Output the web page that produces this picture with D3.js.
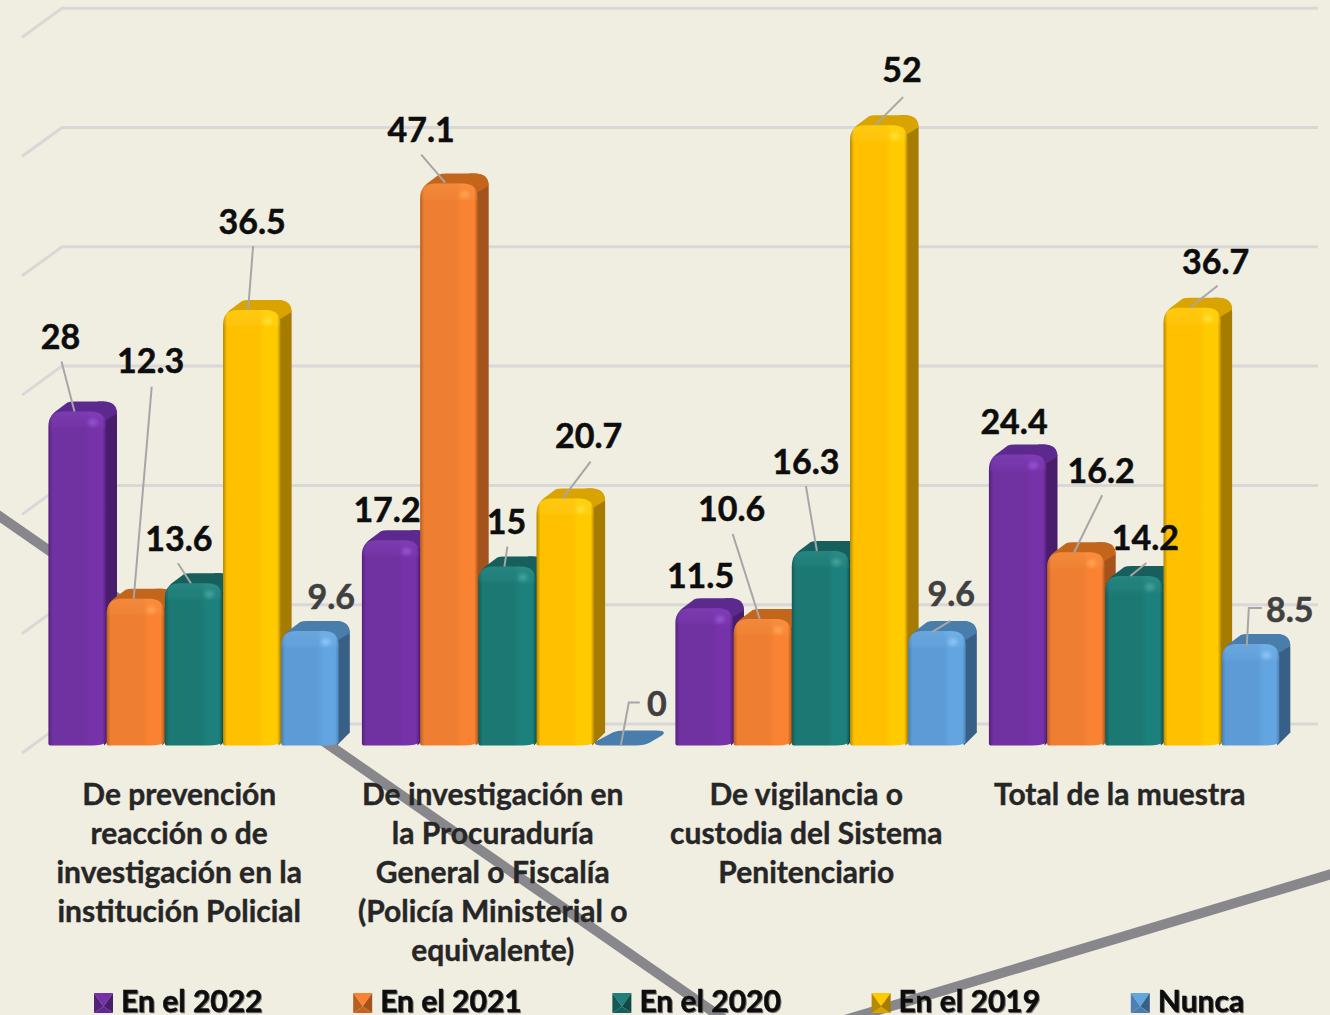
<!DOCTYPE html>
<html><head><meta charset="utf-8">
<script src="https://cdn.jsdelivr.net/npm/d3@7/dist/d3.min.js"></script>
<style>html,body{margin:0;padding:0;background:#f0ede1;overflow:hidden}svg{display:block}text{font-family:Lato,"Open Sans",sans-serif;font-weight:700}</style>
</head><body><svg id="c" width="1330" height="1015"></svg>
<script>
const categories = [["De prevención","reacción o de","investigación en la","institución Policial"],
  ["De investigación en","la Procuraduría","General o Fiscalía","(Policía Ministerial o","equivalente)"],
  ["De vigilancia o","custodia del Sistema","Penitenciario"],
  ["Total de la muestra"]];
const seriesNames = ["En el 2022","En el 2021","En el 2020","En el 2019","Nunca"];
const s2022 = [28,17.2,11.5,24.4];
const s2021 = [12.3,47.1,10.6,16.2];
const s2020 = [13.6,15,16.3,14.2];
const s2019 = [36.5,20.7,52,36.7];
const sNunca = [9.6,0,9.6,8.5];
const seriesValues = [s2022,s2021,s2020,s2019,sNunca];
const gridTicks = [0,10,20,30,40,50,60];

// styling: base, edge, light, top, side, highlight
const palette = [
 {b:"#7030a0",e:"#54227c",l:"#7631a8",t:"#5c2a8e",s:"#481d6c",h:"#a060e0"},
 {b:"#ee7e30",e:"#b85f20",l:"#f98333",t:"#c4651f",s:"#a4531c",h:"#ffb060"},
 {b:"#1a7873",e:"#125a56",l:"#1f807b",t:"#155f5b",s:"#104a47",h:"#50b0a8"},
 {b:"#ffc000",e:"#b58a00",l:"#ffcb00",t:"#d9a300",s:"#a67c00",h:"#ffe850"},
 {b:"#5b9bd5",e:"#4a80b4",l:"#62a5e0",t:"#4a7dab",s:"#386087",h:"#9fd0ff"}];
// layout of each value label: [label dx, label dy from bar front top centre; leader points]
const labelLayout = [
 [[-17,-74,[[-16,-50],[-3,0]]],[15,-238,[[16,-212],[-2,0]]],[-15,-44,[[-16,-20],[-3,0]]],[0,-88,[[1,-64],[-4,0]]],[21,-34,null]],
 [[-4,-30,null],[-28,-53,[[-28,-29],[-4,-1]]],[-1,-44,[[0,-20],[-3,0]]],[23,-62,[[25,-37],[-3,0]]],[33,-41,[[16,-43],[5,-43],[-3,0]]]],
 [[-4,-32,null],[-31,-110,[[-30,-85],[-3,0]]],[-15,-89,[[-15,-65],[-4,0]]],[23,-55,[[24,-28],[-4,0]]],[14,-37,[[13,-10],[-5,1]]]],
 [[-4,-32,null],[25,-81,[[26,-57],[-2,0]]],[11,-38,[[12,-13],[-4,0]]],[23,-46,[[25,-22],[-3,0]]],[39,-34,[[11,-36],[-2,-36],[-4,2]]]]
];
const W=1330,H=1015,baseY=745.5,unit=11.93,bw=58.2,dx=12,dy=10;
const svg=d3.select("#c");
const defs=svg.append("defs");
defs.append("filter").attr("id","soft").append("feGaussianBlur").attr("stdDeviation",.45);
const x=d3.scaleBand().domain(d3.range(categories.length)).range([22,1276]);
const y=d3.scaleLinear().domain([0,60]).range([baseY,baseY-60*unit]);
const inner=d3.scaleBand().domain(d3.range(seriesNames.length)).range([0,bw*5]);
const barX=(c,s)=>x(c)+26.4+inner(s);

palette.forEach((p,i)=>{
 const g=defs.append("linearGradient").attr("id","f"+i);
 [[0,p.e],[.07,p.b],[.62,p.b],[.72,p.l],[.94,p.l],[1,p.e]].forEach(a=>g.append("stop").attr("offset",a[0]).attr("stop-color",a[1]));
 const v=defs.append("linearGradient").attr("id","v"+i).attr("x2",0).attr("y2",1);
 v.append("stop").attr("offset",0).attr("stop-color",p.h).attr("stop-opacity",.22);
 v.append("stop").attr("offset",.8).attr("stop-color",p.h).attr("stop-opacity",.1);
 v.append("stop").attr("offset",1).attr("stop-color",p.h).attr("stop-opacity",0);
 const r=defs.append("radialGradient").attr("id","r"+i);
 r.append("stop").attr("offset",0).attr("stop-color",p.h).attr("stop-opacity",.7);
 r.append("stop").attr("offset",1).attr("stop-color",p.h).attr("stop-opacity",0);
});

// floor + wall grid lines
const grid=svg.append("g").attr("fill","none").attr("stroke","#d9d8d6").attr("stroke-width",3);
grid.selectAll("path").data(gridTicks).join("path")
 .attr("d",t=>{const yb=y(t)-21.5;return `M22,${yb+29}L62,${yb}H1318`;});

// gray decorative strokes behind the chart
svg.append("path").attr("d","M-5,513L725,1020M845,1020L1335,873").attr("fill","none").attr("stroke","#87878c").attr("stroke-width",10);

// bars
categories.forEach((_,c)=>{
 seriesValues.forEach((vals,s)=>{
  const v=vals[c],X=barX(c,s),p=palette[s],g=svg.append("g").attr("filter","url(#soft)");
  if(v===0){
   g.append("path").attr("fill",p.t).attr("d",`M${X+1},${baseY-4}L${X+18},${baseY-dy-3}Q${X+22},${baseY-dy-5} ${X+30},${baseY-dy-5}H${X+bw+3}Q${X+bw+15},${baseY-dy-5} ${X+bw+9},${baseY-dy}L${X+bw-3},${baseY-3}Q${X+bw-8},${baseY} ${X+bw-18},${baseY}H${X+10}Q${X-3},${baseY} ${X+1},${baseY-4}Z`);
   return;
  }
  const T=y(v),w=bw-.6,r=15;
  // side face
  g.append("path").attr("fill",p.s).attr("d",`M${X+w-8},${T+2}L${X+w-8},${T-dy}H${X+w-3}Q${X+w+dx-1},${T-dy} ${X+w+dx-1},${T-dy+14}V${baseY-dy-3}L${X+w-2},${baseY}Z`);
  // top face, its corner rounded into the side
  g.append("path").attr("fill",p.t).attr("d",`M${X+1},${T+10}Q${X+2},${T+4} ${X+7},${T}L${X+19},${T-dy+1}Q${X+21},${T-dy} ${X+26},${T-dy}H${X+w-3}Q${X+w+dx-1},${T-dy} ${X+w+dx-1},${T-dy+12}L${X+w-2},${T+10}Z`);
  const front=`M${X},${baseY-2}V${T+r}Q${X},${T} ${X+r},${T}H${X+w-r}Q${X+w},${T} ${X+w},${T+r}V${baseY-3}Q${X+w-4},${baseY} ${X+w-14},${baseY}H${X+3}Q${X},${baseY} ${X},${baseY-2}Z`;
  g.append("path").attr("fill",`url(#f${s})`).attr("d",front);
  g.append("path").attr("fill",`url(#v${s})`).attr("d",`M${X},${T+18}V${T+r}Q${X},${T} ${X+r},${T}H${X+w-r}Q${X+w},${T} ${X+w},${T+r}V${T+18}Z`);
  g.append("ellipse").attr("cx",X+w-13).attr("cy",T+11).attr("rx",7).attr("ry",6).attr("fill",`url(#r${s})`);
 });
});

// leaders and value labels
categories.forEach((_,c)=>{
 seriesValues.forEach((vals,s)=>{
  const v=vals[c],cx=barX(c,s)+bw/2,T=y(v),L=labelLayout[c][s];
  if(L[2]){
   const line=d3.line();
   svg.append("path").attr("fill","none").attr("stroke","#a6a6a6").attr("stroke-width",2)
    .attr("d",line(L[2].map(q=>[cx+q[0],T+q[1]])));
  }
  const col=s===4?"#404040":"#0d0d0d";
  svg.append("text").attr("x",cx+L[0]).attr("y",T+L[1]).attr("dy",".35em").attr("text-anchor","middle")
   .attr("font-size",34).attr("fill",col).attr("stroke",col).attr("stroke-width",.5).text(v);
 });
});

// category labels
categories.forEach((lines,c)=>{
 const t=svg.append("text").attr("text-anchor","middle").attr("font-size",30).attr("fill","#262626").attr("stroke","#262626").attr("stroke-width",.4);
 lines.forEach((l,i)=>t.append("tspan").attr("x",x(c)+x.bandwidth()/2+.5).attr("y",805+i*39).text(l));
});

// legend
const lx=d3.scaleBand().domain(d3.range(seriesNames.length)).range([94,94+259.2*5]);
seriesNames.forEach((n,i)=>{
 const X=lx(i),p=palette[i],Y=993,w=19,h=20,ax=X+w/2,ay=Y+h*.68;
 const g=svg.append("g");
 g.append("path").attr("fill",p.l).attr("d",`M${X},${Y}H${X+w}L${ax},${ay}Z`);
 g.append("path").attr("fill",p.e).attr("d",`M${X},${Y}V${Y+h}L${ax},${ay}Z`);
 g.append("path").attr("fill",p.s).attr("d",`M${X+w},${Y}V${Y+h}L${ax},${ay}Z`);
 g.append("path").attr("fill",p.t).attr("d",`M${X},${Y+h}H${X+w}L${ax},${ay}Z`);
 g.append("text").attr("x",X+27).attr("y",1012).attr("font-size",30).attr("fill","#0d0d0d").attr("stroke","#0d0d0d").attr("stroke-width",.5)
  .style("filter","drop-shadow(1px 1px 0.6px #777)").text(n);
});
</script></body></html>
